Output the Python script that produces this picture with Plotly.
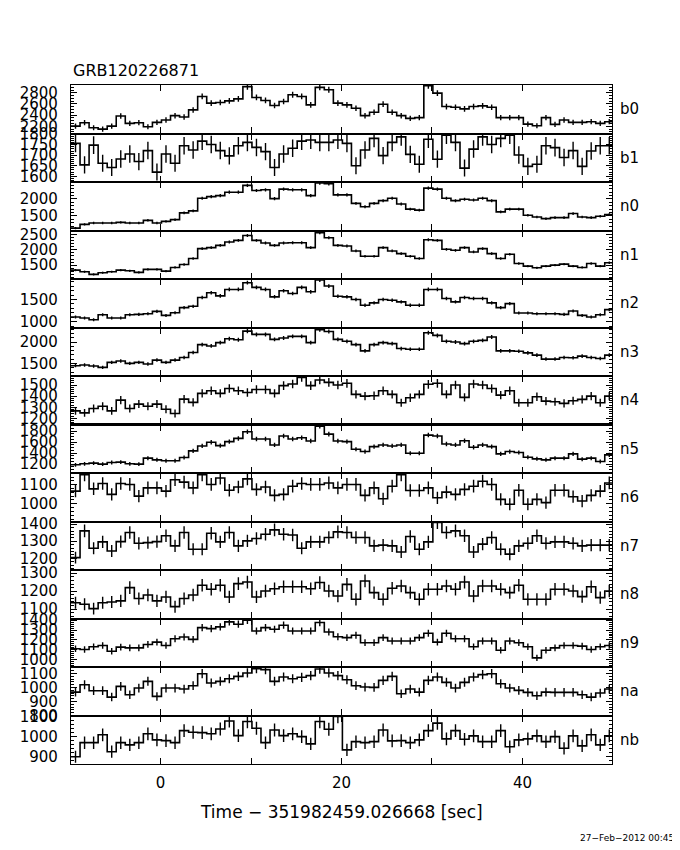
import numpy as np
import plotly.graph_objects as go
from plotly.subplots import make_subplots

# ---- binning (seconds relative to trigger) ----
BIN_START = -9.9
BIN_WIDTH = 1.0
N_BINS = 60
X_RANGE = [-9.9, 49.9]
x_tick_vals = [0, 10, 20, 30, 40]
x_tick_text = ["0", "", "20", "", "40"]

detectors = ["b0", "b1", "n0", "n1", "n2", "n3", "n4", "n5",
             "n6", "n7", "n8", "n9", "na", "nb"]

# ---- count rates (counts/s) per 1-s bin ----
b0 = [2203, 2264, 2173, 2149, 2203, 2384, 2251, 2264, 2191, 2270, 2312, 2390, 2366, 2493, 2735,
      2614, 2626, 2656, 2692, 2910, 2717, 2662, 2572, 2644, 2765, 2735, 2584, 2898, 2855, 2614,
      2584, 2523, 2390, 2451, 2596, 2451, 2390, 2342, 2354, 2928, 2795, 2553, 2541, 2511, 2553,
      2565, 2541, 2354, 2354, 2354, 2239, 2209, 2354, 2233, 2312, 2270, 2270, 2282, 2251, 2282]
b1 = [1756, 1654, 1748, 1662, 1642, 1682, 1706, 1670, 1722, 1620, 1706, 1662, 1745, 1725, 1767,
      1751, 1722, 1697, 1745, 1761, 1737, 1717, 1642, 1706, 1733, 1767, 1772, 1761, 1761, 1772,
      1756, 1650, 1725, 1780, 1698, 1761, 1787, 1704, 1657, 1776, 1681, 1795, 1761, 1639, 1729,
      1787, 1751, 1780, 1795, 1701, 1647, 1657, 1745, 1736, 1689, 1722, 1647, 1720, 1745, 1745]
n0 = [1140, 1250, 1290, 1290, 1290, 1310, 1290, 1290, 1370, 1290, 1340, 1390, 1590, 1650, 2020,
      2070, 2100, 2200, 2200, 2400, 2250, 2270, 2010, 2290, 2270, 2270, 2100, 2470, 2450, 2120,
      2120, 1870, 1770, 1870, 1950, 2020, 1850, 1700, 1670, 2320, 2290, 2020, 1950, 1990, 1970,
      2020, 1950, 1620, 1700, 1700, 1520, 1470, 1420, 1450, 1450, 1570, 1470, 1450, 1490, 1540]
n1 = [1340, 1286, 1200, 1254, 1286, 1340, 1318, 1265, 1362, 1362, 1308, 1426, 1523, 1716, 2039,
      2071, 2146, 2254, 2308, 2469, 2308, 2222, 2146, 2222, 2232, 2232, 2071, 2555, 2394, 2146,
      2125, 1963, 1792, 1792, 2071, 1963, 1878, 1792, 1716, 2329, 2308, 2017, 1985, 2071, 1931,
      2039, 1878, 1716, 1856, 1555, 1469, 1415, 1469, 1501, 1534, 1469, 1426, 1555, 1469, 1577]
n2 = [1106, 1083, 1045, 1159, 1083, 1083, 1159, 1166, 1181, 1234, 1143, 1204, 1318, 1348, 1545,
      1651, 1582, 1726, 1726, 1878, 1772, 1726, 1560, 1696, 1636, 1772, 1673, 1938, 1802, 1575,
      1560, 1499, 1371, 1424, 1499, 1484, 1446, 1371, 1371, 1726, 1726, 1522, 1446, 1545, 1522,
      1522, 1424, 1318, 1408, 1197, 1197, 1181, 1181, 1181, 1166, 1242, 1143, 1106, 1159, 1272]
n3 = [1448, 1464, 1441, 1410, 1525, 1556, 1502, 1525, 1487, 1579, 1525, 1579, 1640, 1755, 1939,
      1908, 1985, 2077, 2054, 2254, 2177, 2177, 2062, 2093, 2131, 2131, 1985, 2284, 2246, 2062,
      2016, 1939, 1793, 1939, 1985, 1962, 1847, 1832, 1832, 2215, 2154, 2016, 2000, 1962, 2016,
      2039, 2116, 1793, 1793, 1786, 1747, 1694, 1602, 1602, 1640, 1632, 1671, 1640, 1617, 1694]
n4 = [1268, 1250, 1289, 1310, 1268, 1365, 1289, 1329, 1310, 1329, 1283, 1244, 1374, 1344, 1425,
      1449, 1425, 1470, 1449, 1434, 1461, 1461, 1425, 1495, 1510, 1570, 1495, 1546, 1525, 1501,
      1516, 1416, 1401, 1404, 1449, 1416, 1341, 1386, 1416, 1507, 1516, 1416, 1501, 1389, 1510,
      1501, 1470, 1410, 1449, 1341, 1341, 1395, 1356, 1350, 1335, 1359, 1371, 1401, 1341, 1401]
n5 = [1189, 1207, 1219, 1201, 1231, 1237, 1207, 1201, 1309, 1279, 1261, 1261, 1321, 1441, 1531,
      1597, 1537, 1609, 1668, 1788, 1656, 1656, 1549, 1710, 1656, 1680, 1620, 1890, 1746, 1620,
      1609, 1471, 1429, 1519, 1549, 1531, 1549, 1399, 1399, 1728, 1710, 1567, 1549, 1626, 1507,
      1549, 1519, 1387, 1429, 1411, 1327, 1297, 1279, 1309, 1309, 1387, 1291, 1309, 1249, 1369]
n6 = [1066, 1152, 1078, 1106, 1049, 1106, 1101, 1040, 1083, 1083, 1066, 1126, 1113, 1083, 1152,
      1101, 1135, 1071, 1088, 1130, 1075, 1088, 1044, 1049, 1092, 1106, 1101, 1101, 1109, 1083,
      1101, 1101, 1044, 1083, 1026, 1092, 1152, 1069, 1069, 1083, 1031, 1061, 1049, 1075, 1092,
      1118, 1101, 1023, 997, 1071, 997, 1023, 1006, 1071, 1071, 1037, 1014, 1044, 1066, 1109]
n7 = [1204, 1361, 1259, 1296, 1243, 1298, 1351, 1288, 1292, 1298, 1332, 1273, 1351, 1253, 1253,
      1347, 1296, 1351, 1273, 1302, 1316, 1341, 1367, 1341, 1337, 1259, 1296, 1296, 1322, 1355,
      1351, 1322, 1322, 1273, 1277, 1273, 1237, 1328, 1253, 1296, 1410, 1351, 1361, 1332, 1237,
      1283, 1322, 1253, 1224, 1273, 1288, 1332, 1288, 1296, 1296, 1288, 1273, 1277, 1277, 1277]
n8 = [1136, 1127, 1103, 1136, 1140, 1146, 1220, 1159, 1179, 1146, 1168, 1114, 1159, 1179, 1233,
      1211, 1233, 1168, 1242, 1251, 1168, 1201, 1214, 1225, 1225, 1225, 1214, 1248, 1201, 1173,
      1238, 1155, 1257, 1192, 1155, 1216, 1229, 1192, 1155, 1211, 1211, 1229, 1211, 1251, 1173,
      1229, 1229, 1211, 1192, 1233, 1155, 1155, 1155, 1211, 1211, 1201, 1170, 1225, 1164, 1201]
n9 = [1110, 1103, 1131, 1144, 1086, 1127, 1120, 1120, 1154, 1178, 1144, 1212, 1229, 1206, 1325,
      1315, 1332, 1383, 1359, 1400, 1291, 1325, 1308, 1349, 1291, 1291, 1291, 1376, 1281, 1233,
      1223, 1247, 1172, 1172, 1223, 1189, 1189, 1189, 1223, 1267, 1178, 1267, 1212, 1212, 1131,
      1189, 1189, 1096, 1189, 1172, 1131, 1018, 1096, 1120, 1144, 1144, 1137, 1103, 1131, 1144]
na = [967, 1020, 977, 977, 931, 1008, 948, 996, 1044, 936, 996, 996, 989, 1013, 1099,
      1032, 1044, 1063, 1080, 1104, 1135, 1128, 1044, 1075, 1063, 1073, 1085, 1133, 1104, 1085,
      1056, 1013, 1003, 1001, 1051, 1080, 955, 989, 967, 1051, 1075, 1037, 996, 1037, 1075,
      1092, 1099, 1027, 996, 979, 965, 941, 967, 965, 965, 965, 948, 931, 960, 989]
nb = [899, 969, 969, 1008, 924, 969, 958, 969, 1013, 983, 979, 969, 1029, 1021, 1019,
      1013, 1037, 1077, 1004, 1074, 1041, 969, 1032, 1004, 1013, 999, 963, 1074, 1036, 1099,
      933, 974, 969, 974, 1032, 978, 979, 969, 983, 1029, 1066, 988, 1029, 986, 1003,
      974, 974, 1029, 949, 983, 988, 1003, 974, 999, 941, 1003, 953, 1008, 958, 1003]

series = [b0, b1, n0, n1, n2, n3, n4, n5, n6, n7, n8, n9, na, nb]

# ---- per-panel y axes ----
y_ranges = [[2070, 2940], [1573, 1803], [1071, 2500], [1050, 2630], [871, 1961],
            [1208, 2338], [1145, 1582], [1040, 1920], [907, 1161], [1131, 1416],
            [1048, 1318], [926, 1417], [799, 1147], [863, 1104]]
y_ticks = [[2200, 2400, 2600, 2800], [1600, 1650, 1700, 1750, 1800], [1500, 2000],
           [1500, 2000, 2500], [1000, 1500], [1500, 2000], [1200, 1300, 1400, 1500],
           [1200, 1400, 1600, 1800], [1000, 1100], [1200, 1300, 1400],
           [1100, 1200, 1300], [1000, 1100, 1200, 1300, 1400], [800, 900, 1000, 1100],
           [900, 1000, 1100]]
y_minor = [50, 10, 100, 100, 100, 100, 20, 50, 20, 20, 20, 20, 20, 20]

FONT = "DejaVu Sans"
n_rows = len(detectors)
fig = make_subplots(rows=n_rows, cols=1, shared_xaxes=True, vertical_spacing=0)

edges = BIN_START + BIN_WIDTH * np.arange(N_BINS + 1)
centers = edges[:-1] + BIN_WIDTH / 2.0

for i, (name, vals) in enumerate(zip(detectors, series)):
    v = np.asarray(vals, dtype=float)
    err = np.sqrt(v * BIN_WIDTH) / BIN_WIDTH
    fig.add_trace(go.Scatter(x=edges, y=np.append(v, v[-1]), mode="lines",
                             line=dict(shape="hv", color="black", width=1.6),
                             hoverinfo="skip", showlegend=False), row=i + 1, col=1)
    fig.add_trace(go.Scatter(x=centers, y=v, mode="markers",
                             marker=dict(size=1, color="rgba(0,0,0,0)"),
                             error_y=dict(type="data", array=err, width=0,
                                          thickness=1.4, color="black"),
                             showlegend=False, name=name), row=i + 1, col=1)
    fig.update_yaxes(range=y_ranges[i], tickmode="array", tickvals=y_ticks[i],
                     ticks="inside", ticklen=6, tickwidth=1, tickcolor="black",
                     mirror="ticks", showline=True, linecolor="black", linewidth=1.3,
                     showgrid=False, zeroline=False,
                     minor=dict(ticks="inside", ticklen=3, tick0=0, dtick=y_minor[i],
                                tickcolor="black", showgrid=False),
                     tickfont=dict(family=FONT, size=15, color="black"),
                     ticklabelstandoff=9, row=i + 1, col=1)
    fig.add_annotation(text=name, xref="paper", x=1.012, xanchor="left",
                       yref=f"y{'' if i == 0 else i + 1} domain", y=0.5, yanchor="middle",
                       showarrow=False, font=dict(family=FONT, size=15, color="black"))

fig.update_xaxes(range=X_RANGE, tickmode="array", tickvals=x_tick_vals, ticktext=x_tick_text,
                 ticks="inside", ticklen=6, tickcolor="black", mirror="ticks",
                 showline=True, linecolor="black", linewidth=1.3, showgrid=False,
                 zeroline=False, tickfont=dict(family=FONT, size=15, color="black"),
                 ticklabelstandoff=5)

# thicker border between n4 and n5 as in the original
fig.add_shape(type="line", xref="x8 domain", yref="y8 domain", x0=0, x1=1, y0=1, y1=1,
              line=dict(color="black", width=3))

fig.add_annotation(text="GRB120226871", xref="paper", yref="paper", x=0, y=1.022,
                   xanchor="left", yanchor="middle", showarrow=False,
                   font=dict(family=FONT, size=16, color="black"))
fig.add_annotation(text="Time \u2212 351982459.026668 [sec]", xref="paper", yref="paper",
                   x=0.5, y=-0.0707, xanchor="center", yanchor="middle", showarrow=False,
                   font=dict(family=FONT, size=17, color="black"))
fig.add_annotation(text="27\u2212Feb\u22122012 00:45", xref="paper", yref="paper",
                   x=1.118, y=-0.109, xanchor="right", yanchor="middle", showarrow=False,
                   font=dict(family=FONT, size=9, color="black"))

# the page adds an 8 px body margin: the figure is shrunk so it lands on the same
# pixels as the original and does not overflow the window
fig.update_layout(width=672, height=834, margin=dict(l=60, r=68, t=77, b=78),
                  paper_bgcolor="white", plot_bgcolor="white", showlegend=False)

fig.write_html("out.html")
